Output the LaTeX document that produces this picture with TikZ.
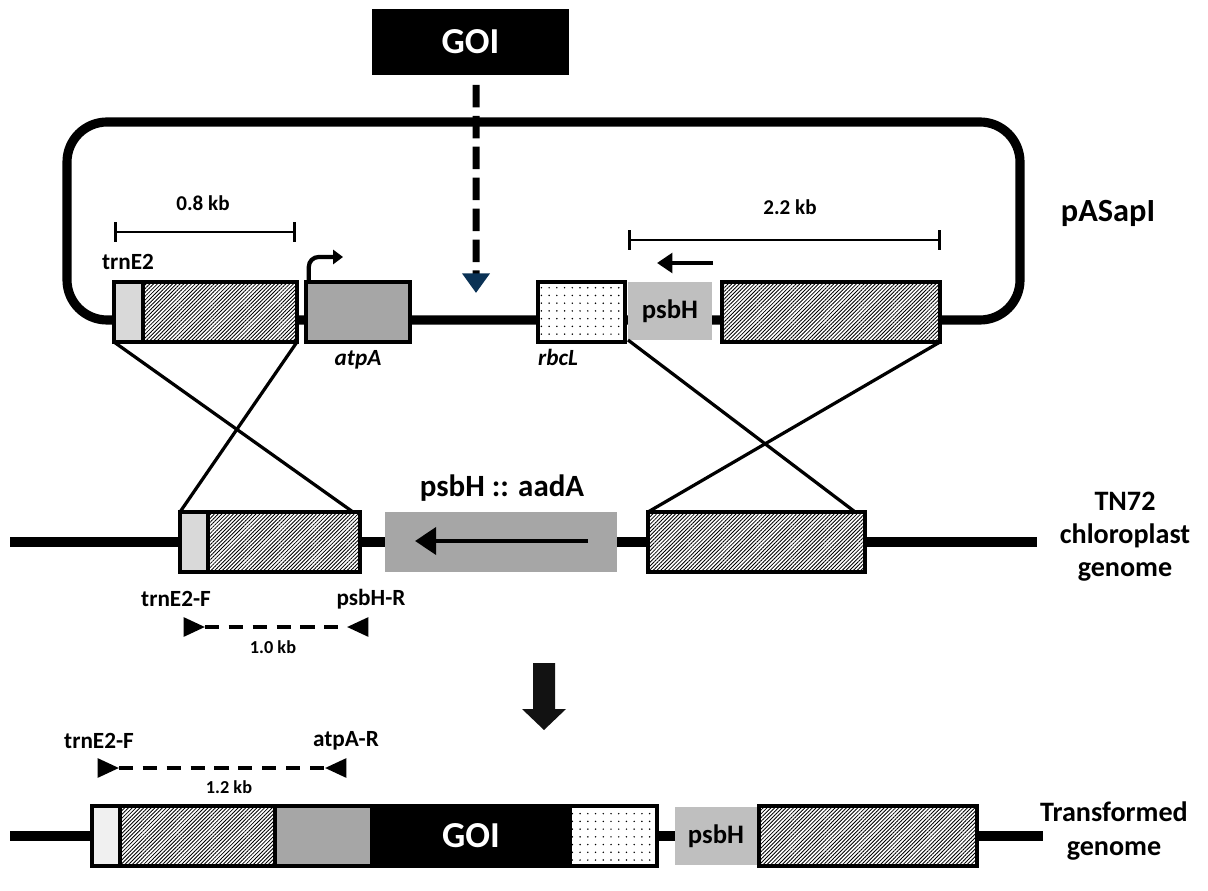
\documentclass[tikz,border=0pt]{standalone}
\usepackage{fontspec}
\setmainfont{Carlito}
\usetikzlibrary{arrows.meta,patterns.meta,shapes.geometric}
\definecolor{goinavy}{RGB}{10,50,85}

\begin{document}
\begin{tikzpicture}[x=0.025cm, y=-0.025cm, font=\bfseries,
    every node/.style={inner sep=0pt, outer sep=0pt},
    boxsize/.style args={#1/#2}{minimum width=#1*0.025cm, minimum height=#2*0.025cm},
    gene/.style={draw, line width=2.4pt},
    hatchbox/.style={gene, preaction={fill=white}, pattern={Lines[angle=45,distance=1.9pt,line width=0.6pt]}},
    dotbox/.style={gene, preaction={fill=white}, pattern={Dots[distance=5.5pt,radius=0.6pt]}},
    lightbox/.style={gene, fill=black!15},
    greybox/.style={fill=black!25, font=\fontsize{19}{22}\selectfont\bfseries},
    backbone/.style={line width=6.5pt},
    crossline/.style={line width=2.3pt},
    primer/.style={isosceles triangle, isosceles triangle stretches, fill, minimum width=14pt, minimum height=15pt},
    primerline/.style={line width=2.5pt, dash pattern=on 10pt off 7pt},
    lbl/.style={font=\fontsize{16.5}{19}\selectfont\bfseries},
    gname/.style={font=\fontsize{16.5}{19}\selectfont\bfseries\itshape},
    kb/.style={font=\fontsize{15}{17}\selectfont\bfseries},
    smallkb/.style={font=\fontsize{13}{15}\selectfont\bfseries},
    goitext/.style={text=white, font=\fontsize{26}{30}\selectfont\bfseries},
    big/.style={font=\fontsize{20}{23.5}\selectfont\bfseries, align=center}]

\useasboundingbox (0,0) rectangle (1208,891);

% plasmid pASapI
\draw[backbone, rounded corners=1cm] (67,320) -- (67,122) -- (1020,122) -- (1020,320) -- cycle;
\node[fill=black, boxsize=197/66, goitext] (goi) at (470.5,42) {GOI};
\coordinate (ins) at (476,293);
\draw[line width=5pt, dash pattern=on 16pt off 6pt, -{Triangle[color=goinavy,width=19pt,length=14pt]}]
    ([xshift=4pt,yshift=-7pt]goi.south) -- (ins);

\node[hatchbox, boxsize=183/60] (trnA) at (205.5,312) {};
\node[lightbox, boxsize=29/60] (trnAl) at (128.5,312) {};
\node[gene, fill=black!35, boxsize=104/60] (atpA) at (358,312) {};
\node[dotbox, boxsize=87/60] (rbcA) at (581.5,312) {};
\node[greybox, boxsize=84/58] (psbA) at (670,311) {psbH};
\node[hatchbox, boxsize=218/60] (rhA) at (831,312) {};

\node[lbl] (trnlab) at (128,262) {trnE2};
\node[gname] (atplab) at (358,360) {atpA};
\node[gname] (rbclab) at (558,357) {rbcL};
\node[font=\fontsize{23}{26}\selectfont\bfseries] (pas) at (1108,213) {pASapI};

% size bars
\coordinate (b08l) at (114,232); \coordinate (b08r) at (296,232);
\draw[line width=2pt, {Bar[width=14pt]}-{Bar[width=14pt]}] (b08l) -- (b08r);
\node[kb] (kb08) at (203,203) {0.8 kb};
\coordinate (b22l) at (628,240); \coordinate (b22r) at (941,240);
\draw[line width=2pt, {Bar[width=14pt]}-{Bar[width=14pt]}] (b22l) -- (b22r);
\node[kb] (kb22) at (790,207) {2.2 kb};

% promoter and psbH direction
\coordinate (tss) at (343,257);
\draw[line width=3pt, rounded corners=7pt, -{Triangle[width=10pt,length=7pt]}] ([xshift=2pt]atpA.north west) |- (tss);
\coordinate (pa1) at (713,263); \coordinate (pa2) at (657,263);
\draw[line width=3pt, -{Triangle[width=14pt,length=11pt]}] (pa1) -- (pa2);

% TN72 genome
\coordinate (m0) at (10,542); \coordinate (m1) at (1037,542);
\draw[backbone] (m0) -- (m1);
\node[hatchbox, boxsize=180/60] (trnB) at (270,542) {};
\node[lightbox, boxsize=28/60] (trnBl) at (194,542) {};
\node[fill=black!35, boxsize=232/60] (aadA) at (501,542) {};
\coordinate (aa1) at (588,541); \coordinate (aa2) at (415,541);
\draw[line width=3.5pt, -{Triangle[width=19pt,length=15pt]}] (aa1) -- (aa2);
\node[font=\fontsize{22}{26}\selectfont\bfseries] (aadlab) at (502,488) {psbH :: aadA};
\node[hatchbox, boxsize=217/60] (rhB) at (756.5,542) {};
\node[big] (tn72) at (1125,537) {TN72\\chloroplast\\genome};

% recombination
\draw[crossline] (trnA.south west) -- ([xshift=-5pt]trnB.north east);
\draw[crossline] (trnA.south east) -- (trnB.north west);
\draw[crossline] (psbA.south west) -- ([xshift=-7pt]rhB.north east);
\draw[crossline] (rhA.south east) -- (rhB.north west);

% primers
\node[primer] (fw1) at (190,627) {};
\node[primer, shape border rotate=180] (rv1) at (362,627) {};
\draw[primerline] (fw1) -- (rv1);
\node[lbl] (fw1lab) at (176,599) {trnE2-F};
\node[lbl] (rv1lab) at (371,599) {psbH-R};
\node[smallkb] (kb10) at (273,647) {1.0 kb};

\fill[black!93] (533,663) -- (555,663) -- (555,709) -- (566,709) -- (544,730) -- (522,709) -- (533,709) -- cycle;

\node[primer] (fw2) at (104,768) {};
\node[primer, shape border rotate=180] (rv2) at (340,768) {};
\draw[primerline] (fw2) -- (rv2);
\node[lbl] (fw2lab) at (99,741) {trnE2-F};
\node[lbl] (rv2lab) at (346,741) {atpA-R};
\node[smallkb] (kb12) at (229,787) {1.2 kb};

% transformed genome
\coordinate (t0) at (10,836); \coordinate (t1) at (1043,836);
\draw[backbone] (t0) -- (t1);
\node[gene, fill=black!6, boxsize=28/60] (trnC) at (106,836) {};
\node[hatchbox, boxsize=155/60] (hatC) at (197.5,836) {};
\node[gene, fill=black!35, boxsize=97/60] (atpC) at (323.5,836) {};
\node[gene, fill=black, boxsize=198/60, goitext] (goiC) at (471,836) {GOI};
\node[dotbox, boxsize=87/60] (rbcC) at (613.5,836) {};
\node[greybox, boxsize=82/58] (psbC) at (716,836) {psbH};
\node[hatchbox, boxsize=218/60] (rhC) at (868,836) {};
\node[big] (trf) at (1114,831) {Transformed\\genome};

\end{tikzpicture}
\end{document}
